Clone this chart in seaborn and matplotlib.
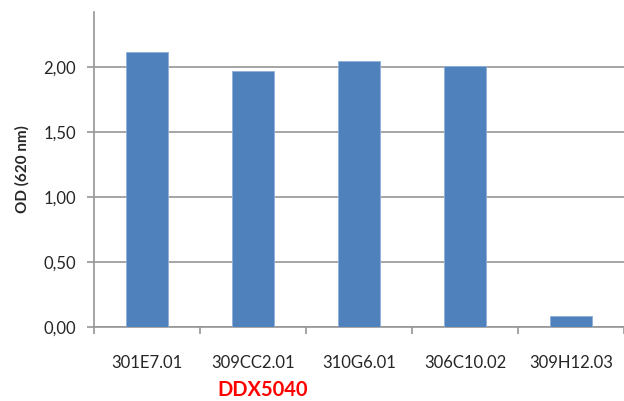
import matplotlib
matplotlib.use("Agg")
import matplotlib.pyplot as plt
import seaborn as sns
import pandas as pd

# valores
clones = ["301E7.01", "309CC2.01", "310G6.01", "306C10.02", "309H12.03"]
od_620 = [2.11, 1.965, 2.04, 2.005, 0.085]
ticks_y = [0.0, 0.5, 1.0, 1.5, 2.0]
rotulos_y = ["0,00", "0,50", "1,00", "1,50", "2,00"]

df = pd.DataFrame({"clone": clones, "od": od_620})

sns.set_style("white")
plt.rcParams["font.family"] = ["Lato", "DejaVu Sans"]

fig = plt.figure(figsize=(6.24, 4.01), dpi=100)
ax = fig.add_axes([94 / 624, 1 - 327 / 401, 1 - 94 / 624, (327 - 12) / 401])

sns.barplot(data=df, x="clone", y="od", color="#4f81bd", width=0.4,
            saturation=1, edgecolor="#8fb0da", linewidth=0.6, ax=ax, zorder=3)

ax.set_ylim(0, 2.42)
ax.set_xlim(-0.5, 4.45)
ax.set_yticks(ticks_y)
ax.set_yticklabels(rotulos_y, fontsize=12)
ax.grid(axis="y", color="#969696", linewidth=1.2, zorder=0)

# ticks do eixo x nas fronteiras das categorias
ax.set_xticks([i + 0.5 for i in range(-1, 5)], minor=True)
ax.tick_params(axis="x", which="both", bottom=True)
ax.tick_params(axis="x", which="minor", length=5, color="#969696", width=1.2)
ax.tick_params(axis="x", which="major", length=0, labelsize=12, pad=20)
ax.tick_params(axis="y", left=True, length=5, color="#969696", width=1.2, pad=8)

for lado in ["top", "right"]:
    ax.spines[lado].set_visible(False)
ax.spines["left"].set_color("#969696")
ax.spines["bottom"].set_color("#969696")
ax.spines["left"].set_linewidth(1.2)
ax.spines["bottom"].set_linewidth(1.2)

ax.set_xlabel("")
ax.set_ylabel("OD (620 nm)", fontsize=11, fontweight="bold", labelpad=10)

fig.text(263 / 624, 1 - 390 / 401, "DDX5040", color="red", fontsize=14.5,
         fontweight="bold", ha="center", va="center")

fig.savefig("out.png", dpi=100)
